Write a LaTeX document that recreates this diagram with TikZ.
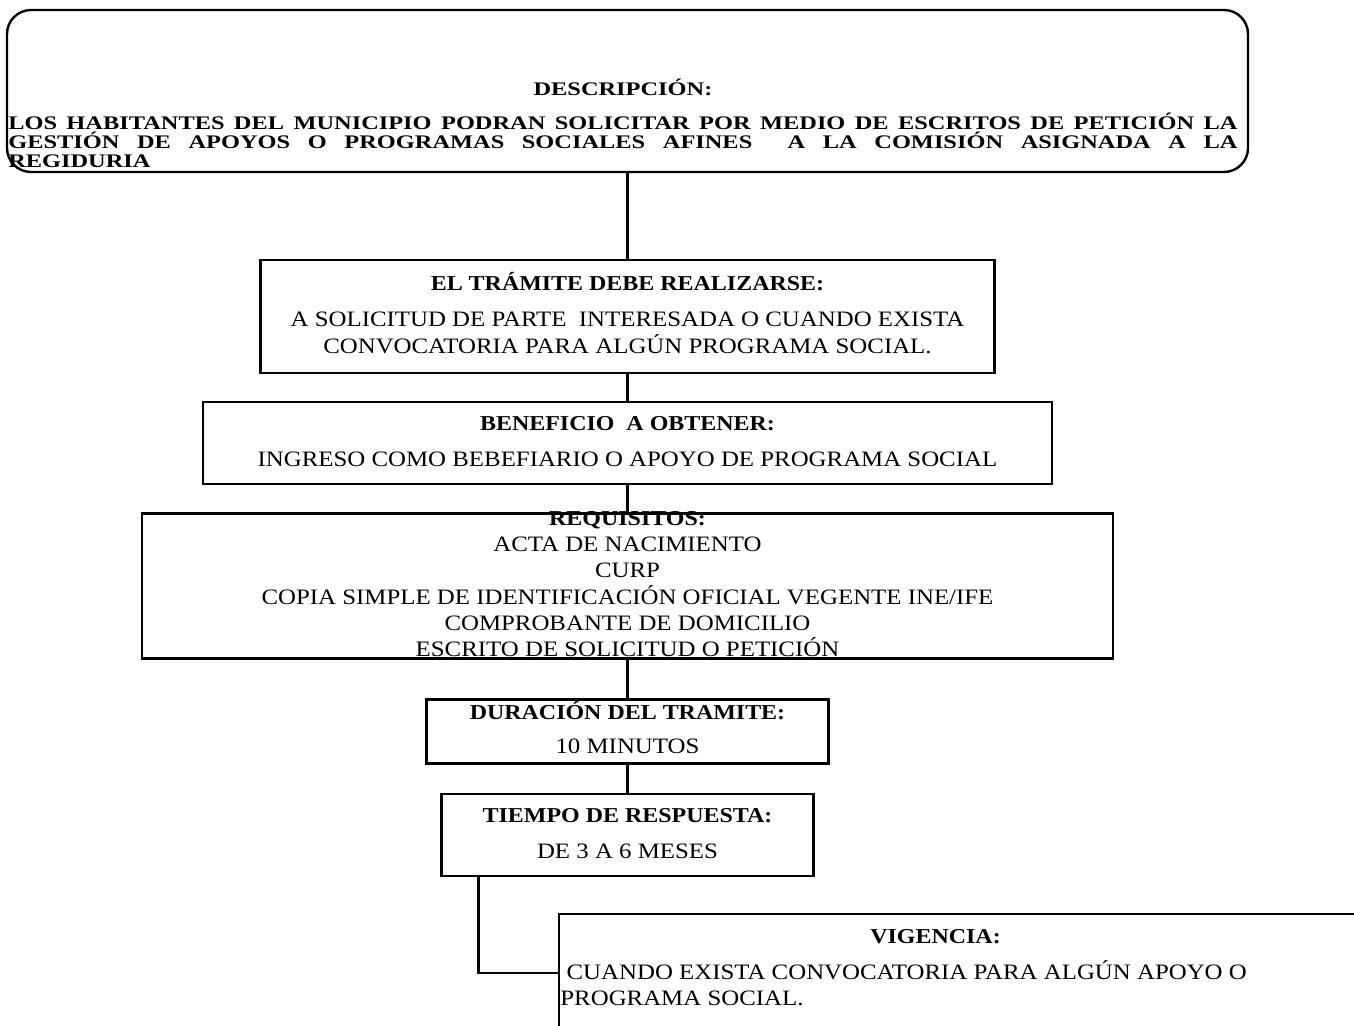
\documentclass[tikz,border=0pt]{standalone}
\usepackage{fontspec}
\setmainfont{Liberation Serif}
\usepackage{graphicx}
\usetikzlibrary{positioning}

\newcommand{\wide}[1]{\scalebox{1.13}[1]{\begin{tabular}{@{}c@{}}#1\end{tabular}}}
\newcommand{\head}[1]{{\fontsize{10.6}{13}\selectfont\bfseries #1}}

\begin{document}
\begin{tikzpicture}[
  x=0.5pt, y=-0.5pt,
  every node/.style={inner sep=0pt, font=\fontsize{11}{13}\selectfont},
  box/.style={draw, line width=1.2pt},
  link/.style={line width=1.2pt}
]
\useasboundingbox (0,0) rectangle (1354,1026);
\clip (0,0) rectangle (1354,1026);

% descripcion
\node[box, rounded corners=12pt, minimum width=620.5pt, minimum height=81pt] (desc) at (627.5,91) {};
\node[anchor=base, font=\fontsize{9.6}{9.6}\selectfont\bfseries] (desctxt) at (623,168)
  {\scalebox{1.27}[1]{\parbox[b]{484pt}{{\centering DESCRIPCIÓN:\par}\vspace{7.4pt}
   \noindent LOS HABITANTES DEL MUNICIPIO PODRAN SOLICITAR POR MEDIO DE ESCRITOS DE PETICIÓN LA\linebreak
   GESTIÓN DE APOYOS O PROGRAMAS SOCIALES AFINES\ \ A LA COMISIÓN ASIGNADA A LA\linebreak
   REGIDURIA}}};

% pasos
\node[box, minimum width=367pt, minimum height=56.5pt] (tram) at (627.5,316.5)
  {\wide{\head{EL TRÁMITE DEBE REALIZARSE:}\\[5pt]
   A SOLICITUD DE PARTE\ \ INTERESADA O CUANDO EXISTA\\
   CONVOCATORIA PARA ALGÚN PROGRAMA SOCIAL.}};
\node[box, minimum width=424.5pt, minimum height=41pt] (benef) at (627.5,443)
  {\wide{\head{BENEFICIO\ \ A OBTENER:}\\[5pt]
   INGRESO COMO BEBEFIARIO O APOYO DE PROGRAMA SOCIAL}};
\node[box, inner ysep=-3pt, minimum width=485.5pt] (req) at (627.5,586)
  {\wide{\head{REQUISITOS:}\\
   ACTA DE NACIMIENTO\\
   CURP\\
   COPIA SIMPLE DE IDENTIFICACIÓN OFICIAL VEGENTE INE/IFE\\
   COMPROBANTE DE DOMICILIO\\
   ESCRITO DE SOLICITUD O PETICIÓN}};
\node[box, minimum width=201pt, minimum height=32pt] (dur) at (627.5,731.5)
  {\wide{\head{DURACIÓN DEL TRAMITE:}\\[4pt] 10 MINUTOS}};
\node[box, minimum width=186pt, minimum height=41pt] (tiempo) at (627.5,835)
  {\wide{\head{TIEMPO DE RESPUESTA:}\\[5pt] DE 3 A 6 MESES}};

% vigencia
\node[box, anchor=north west, minimum width=450pt, minimum height=100pt] (vig) at (558,913) {};
\node[anchor=north west] (vigtxt) at (560,929)
  {\scalebox{1.13}[1]{\parbox[t]{332pt}{{\centering\head{VIGENCIA:}\par}\vspace{5pt}
   \raggedright\ CUANDO EXISTA CONVOCATORIA PARA ALGÚN APOYO O\\
   PROGRAMA SOCIAL.}}};
\coordinate (vigin) at (558,973);

\draw[link] (desc.south) -- (tram.north);
\draw[link] (tram.south) -- (benef.north);
\draw[link] (benef.south) -- (req.north);
\draw[link] (req.south) -- (dur.north);
\draw[link] (dur.south) -- (tiempo.north);
\draw[link] ([xshift=19pt]tiempo.south west) |- (vigin);
\end{tikzpicture}
\end{document}
